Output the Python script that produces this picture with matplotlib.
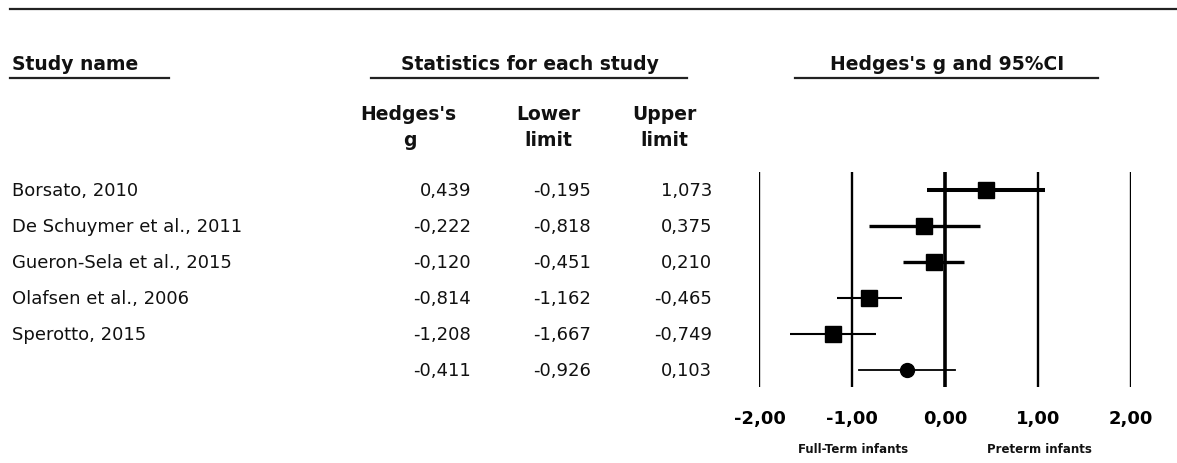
import matplotlib
matplotlib.use("Agg")
import matplotlib.pyplot as plt

studies = ["Borsato, 2010", "De Schuymer et al., 2011", "Gueron-Sela et al., 2015",
           "Olafsen et al., 2006", "Sperotto, 2015"]
hedges_g = [0.439, -0.222, -0.120, -0.814, -1.208]
lower = [-0.195, -0.818, -0.451, -1.162, -1.667]
upper = [1.073, 0.375, 0.210, -0.465, -0.749]
summary_g, summary_lo, summary_hi = -0.411, -0.926, 0.103
ci_widths = [2.9, 2.4, 2.4, 1.5, 1.5]
xticks = [-2, -1, 0, 1, 2]
tick_labels = ["-2,00", "-1,00", "0,00", "1,00", "2,00"]
favours = ["Full-Term infants", "Preterm infants"]

plt.rcParams["font.family"] = ["DejaVu Sans"]
W, H = 1177, 464
fig = plt.figure(figsize=(W / 100, H / 100), dpi=100)

# Overlay axes in pixel units for the table part
ax0 = fig.add_axes([0, 0, 1, 1])
ax0.set_xlim(0, W)
ax0.set_ylim(H, 0)
ax0.axis("off")

def fmt(v):
    return f"{v:.3f}".replace(".", ",")

ax0.plot([10, W], [10, 10], color="#222222", lw=1.6)

hdr = dict(fontsize=13.5, fontweight="bold", va="center", color="#111111")
ax0.text(12, 65, "Study name", ha="left", **hdr)
ax0.plot([10, 169], [79, 79], color="#222222", lw=1.6)
ax0.text(530, 65, "Statistics for each study", ha="center", **hdr)
ax0.plot([371, 687], [79, 79], color="#222222", lw=1.6)
ax0.text(947, 65, "Hedges's g and 95%CI", ha="center", **hdr)
ax0.plot([795, 1098], [79, 79], color="#222222", lw=1.6)

ax0.text(408, 114, "Hedges's", ha="center", **hdr)
ax0.text(410, 141, "g", ha="center", **hdr)
ax0.text(548, 114, "Lower", ha="center", **hdr)
ax0.text(548, 141, "limit", ha="center", **hdr)
ax0.text(664, 114, "Upper", ha="center", **hdr)
ax0.text(664, 141, "limit", ha="center", **hdr)

row_y0, row_dy = 191, 36.1
body = dict(fontsize=13, va="center", color="#111111")
for i, name in enumerate(studies):
    y = row_y0 + i * row_dy
    ax0.text(12, y, name, ha="left", **body)
    ax0.text(471, y, fmt(hedges_g[i]), ha="right", **body)
    ax0.text(591, y, fmt(lower[i]), ha="right", **body)
    ax0.text(712, y, fmt(upper[i]), ha="right", **body)
y = row_y0 + len(studies) * row_dy
ax0.text(471, y, fmt(summary_g), ha="right", **body)
ax0.text(591, y, fmt(summary_lo), ha="right", **body)
ax0.text(712, y, fmt(summary_hi), ha="right", **body)

# Forest plot axes
left_px, right_px, top_px, bot_px = 759, 1131, 173, 388
ax = fig.add_axes([left_px / W, (H - bot_px) / H, (right_px - left_px) / W, (bot_px - top_px) / H])
ax.set_xlim(-2.005, 2.005)
ax.set_ylim(5.47, -0.5)
for s in ax.spines.values():
    s.set_visible(False)
for xv in xticks:
    ax.axvline(xv, color="black", lw=2.6 if xv == 0 else 1.7, zorder=1)

for i in range(len(studies)):
    ax.plot([lower[i], upper[i]], [i, i], color="black", lw=ci_widths[i], solid_capstyle="butt", zorder=2)
    ax.plot(hedges_g[i], i, marker="s", color="black", ms=11, zorder=3)
n = len(studies)
ax.plot([summary_lo, summary_hi], [n, n], color="black", lw=1.3, zorder=2)
ax.plot(summary_g, n, marker="o", color="black", ms=10, zorder=3)

ax.set_yticks([])
ax.set_xticks(xticks)
ax.set_xticklabels(tick_labels, fontsize=13, fontweight="bold")
ax.tick_params(axis="x", length=0, pad=16)

small = dict(fontsize=8.5, fontweight="bold", va="center", ha="center", color="#111111")
ax0.text(853, 450, favours[0], **small)
ax0.text(1039, 450, favours[1], **small)

fig.savefig("out.png", dpi=100)
